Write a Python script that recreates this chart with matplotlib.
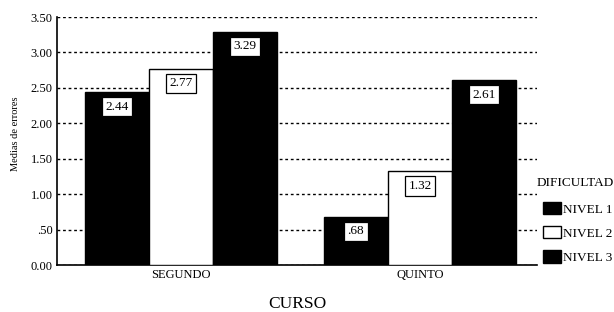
import matplotlib.pyplot as plt
import matplotlib.patches as mpatches
import numpy as np

# Data
cursos = ['SEGUNDO', 'QUINTO']
nivel1 = [2.44, 0.68]
nivel2 = [2.77, 1.32]
nivel3 = [3.29, 2.61]
etiquetas = [['2.44', '.68'], ['2.77', '1.32'], ['3.29', '2.61']]
yticks = [0, 0.5, 1.0, 1.5, 2.0, 2.5, 3.0, 3.5]
ytick_labels = ['0.00', '.50', '1.00', '1.50', '2.00', '2.50', '3.00', '3.50']


def main():
    plt.rcParams['font.family'] = ['Liberation Serif', 'DejaVu Serif']
    fig = plt.figure(figsize=(6.14, 3.12), dpi=100)
    ax = fig.add_axes([0.0928, 0.1506, 0.7818, 0.7949])

    x = np.arange(len(cursos))
    w = 0.268
    series = [nivel1, nivel2, nivel3]
    colors = ['black', 'white', 'black']
    names = ['NIVEL 1', 'NIVEL 2', 'NIVEL 3']
    for i, vals in enumerate(series):
        pos = x + (i - 1) * w
        ax.bar(pos, vals, w, color=colors[i], edgecolor='black',
               linewidth=1, zorder=3)
        # value boxes sit just under the top of each bar
        for p, v, t in zip(pos, vals, etiquetas[i]):
            ax.text(p, v - 0.205, t, ha='center', va='center', fontsize=9.5,
                    zorder=4,
                    bbox=dict(boxstyle='square,pad=0.28', fc='white',
                              ec='black', lw=0.9))

    ax.set_ylim(0, 3.5)
    ax.set_xlim(-0.519, 1.49)
    ax.set_yticks(yticks)
    ax.set_yticklabels(ytick_labels, fontsize=9)
    ax.set_xticks(x)
    ax.set_xticklabels(cursos, fontsize=9)
    ax.tick_params(axis='both', length=0, pad=3)
    ax.yaxis.grid(True, linestyle=(0, (2, 2)), color='black', linewidth=1,
                  zorder=0)
    ax.set_axisbelow(True)
    for s in ['top', 'right']:
        ax.spines[s].set_visible(False)
    ax.spines['left'].set_linewidth(1.2)
    ax.spines['bottom'].set_linewidth(1.2)
    ax.set_ylabel('Medias de errores', fontsize=7.5)
    ax.yaxis.set_label_coords(-0.078, 0.53)
    ax.set_xlabel('CURSO', fontsize=12.5, labelpad=11)

    # Legend: title as plain text, entries indented below it
    fig.text(537 / 614, 1 - 183 / 312, 'DIFICULTAD', fontsize=9.5,
             ha='left', va='center')
    handles = [mpatches.Patch(facecolor=c, edgecolor='black', linewidth=1)
               for c in colors]
    fig.legend(handles, names, loc='upper left',
               bbox_to_anchor=(543 / 614, 1 - 202 / 312), frameon=False,
               fontsize=9.5, handlelength=1.4, handleheight=1.05,
               handletextpad=0.1, labelspacing=0.8, borderpad=0,
               borderaxespad=0)

    fig.savefig('out.png', dpi=100)


if __name__ == '__main__':
    main()
